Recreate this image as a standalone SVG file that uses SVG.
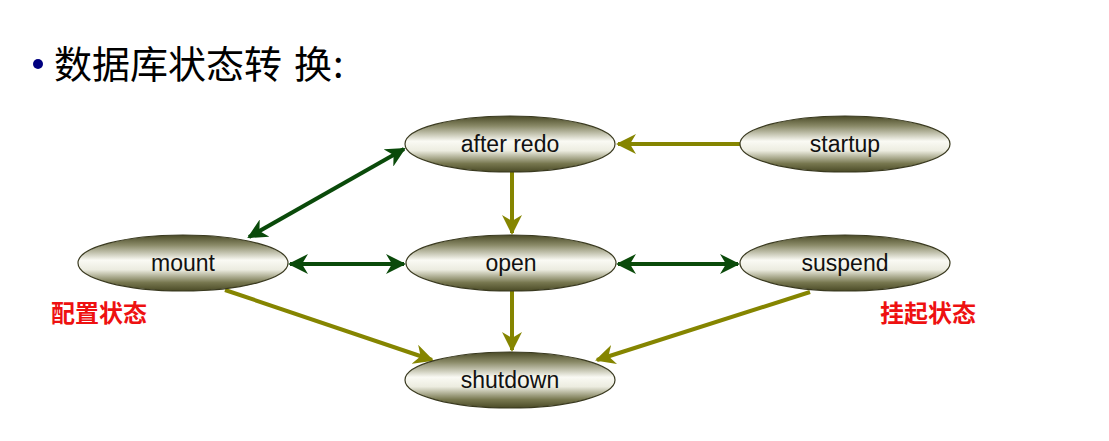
<svg xmlns="http://www.w3.org/2000/svg" width="1109" height="441" viewBox="0 0 1109 441">
<defs>
<linearGradient id="g" x1="0" y1="0" x2="0" y2="1">
<stop offset="0" stop-color="#4a4a26"/>
<stop offset="0.18" stop-color="#8a8a68"/>
<stop offset="0.45" stop-color="#fafaf4"/>
<stop offset="0.62" stop-color="#ececE0"/>
<stop offset="0.85" stop-color="#77774f"/>
<stop offset="1" stop-color="#4a4a26"/>
</linearGradient>
<marker id="ao" viewBox="0 0 10 10" refX="9" refY="5" markerWidth="5" markerHeight="5" orient="auto-start-reverse" markerUnits="strokeWidth">
<path d="M0,0 L10,5 L0,10 L3,5 z" fill="#858500"/>
</marker>
<marker id="ag" viewBox="0 0 10 10" refX="9" refY="5" markerWidth="5" markerHeight="5" orient="auto-start-reverse" markerUnits="strokeWidth">
<path d="M0,0 L10,5 L0,10 L3,5 z" fill="#0a4a0a"/>
</marker>
<style>
.n ellipse{fill:url(#g);stroke:#3a3a20;stroke-width:1.2}
.n text{font-family:"Liberation Sans",Arial,sans-serif;font-size:23px;fill:#111;text-anchor:middle}
.o{stroke:#858500;stroke-width:4;fill:none;marker-end:url(#ao)}
.d{stroke:#0a4a0a;stroke-width:4;fill:none;marker-start:url(#ag);marker-end:url(#ag)}
.r{font-family:"Liberation Sans","Noto Sans CJK SC",sans-serif;font-size:24px;font-weight:bold;fill:#ee1111}
</style>
</defs>
<rect width="1109" height="441" fill="#fff"/>
<circle cx="38" cy="64" r="5" fill="#000080"/>
<text x="54" y="78" font-family="'Noto Sans CJK SC',sans-serif" font-size="38" fill="#000">数据库状态转<tspan x="294">换</tspan><tspan x="333">:</tspan></text>
<g id="connectors">
<line class="o" x1="740" y1="144" x2="618" y2="144"/>
<line class="o" x1="512" y1="172" x2="512" y2="233"/>
<line class="o" x1="512" y1="291" x2="512" y2="350"/>
<line class="o" x1="225" y1="290" x2="432" y2="360"/>
<line class="o" x1="810" y1="292" x2="597" y2="360"/>
<line class="d" x1="249" y1="237" x2="404" y2="149"/>
<line class="d" x1="290" y1="264" x2="404" y2="264"/>
<line class="d" x1="618" y1="264" x2="738" y2="264"/>
</g>
<g id="afterredo" class="n"><ellipse cx="510" cy="144" rx="105" ry="28"/><text x="510" y="152">after redo</text></g>
<g id="startup" class="n"><ellipse cx="845" cy="144" rx="105" ry="28"/><text x="845" y="152">startup</text></g>
<g id="mount" class="n"><ellipse cx="183" cy="263" rx="105" ry="28"/><text x="183" y="271">mount</text></g>
<g id="open" class="n"><ellipse cx="511" cy="263" rx="105" ry="28"/><text x="511" y="271">open</text></g>
<g id="suspend" class="n"><ellipse cx="845" cy="263" rx="105" ry="28"/><text x="845" y="271">suspend</text></g>
<g id="shutdown" class="n"><ellipse cx="510" cy="380" rx="105" ry="28"/><text x="510" y="388">shutdown</text></g>
<text class="r" x="51" y="322">配置状态</text>
<text class="r" x="880" y="322">挂起状态</text>
</svg>
